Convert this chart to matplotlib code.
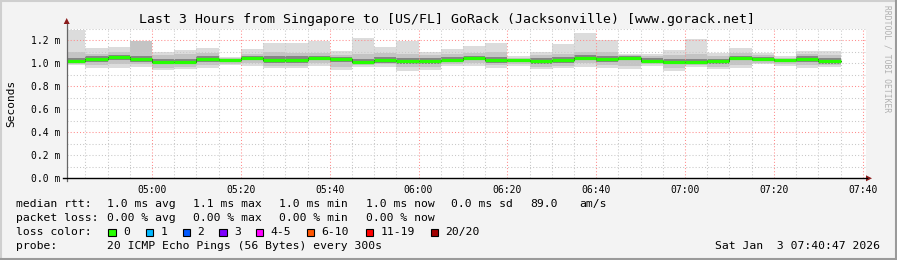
import numpy as np
import pandas as pd
import matplotlib
matplotlib.use('Agg')
import matplotlib.pyplot as plt
import matplotlib.dates as mdates
from matplotlib.patches import Polygon, Rectangle

# smokeping style graph: 20 pings every 300s, values in ms
bar_start = pd.date_range('2026-01-03 04:40', periods=35, freq='5min')
t_start = pd.Timestamp('2026-01-03 04:40:47')
t_end = pd.Timestamp('2026-01-03 07:40:47')

hi  = [1.292, 1.133, 1.142, 1.194, 1.100, 1.116, 1.133, 1.052, 1.124, 1.180, 1.180, 1.190,
       1.107, 1.220, 1.142, 1.194, 1.100, 1.124, 1.150, 1.180, 1.063, 1.100, 1.168, 1.266,
       1.203, 1.081, 1.081, 1.116, 1.211, 1.087, 1.133, 1.092, 1.063, 1.107, 1.107]
hi2 = [1.100, 1.078, 1.100, 1.190, 1.070, 1.080, 1.090, 1.045, 1.080, 1.100, 1.090, 1.090,
       1.070, 1.080, 1.090, 1.080, 1.070, 1.080, 1.090, 1.100, 1.050, 1.070, 1.080, 1.100,
       1.100, 1.070, 1.060, 1.070, 1.080, 1.060, 1.090, 1.070, 1.050, 1.080, 1.070]
hi3 = [1.050, 1.060, 1.075, 1.060, 1.035, 1.040, 1.060, 1.040, 1.065, 1.060, 1.065, 1.065,
       1.055, 1.040, 1.055, 1.045, 1.045, 1.055, 1.065, 1.055, 1.040, 1.045, 1.055, 1.070,
       1.065, 1.060, 1.045, 1.035, 1.040, 1.040, 1.065, 1.055, 1.040, 1.060, 1.045]
med = [1.023, 1.037, 1.055, 1.037, 1.011, 1.011, 1.037, 1.029, 1.046, 1.029, 1.029, 1.046,
       1.037, 1.011, 1.029, 1.020, 1.020, 1.029, 1.046, 1.026, 1.029, 1.020, 1.029, 1.046,
       1.037, 1.046, 1.020, 1.011, 1.011, 1.020, 1.046, 1.037, 1.029, 1.037, 1.020]
lo3 = [1.005, 1.015, 1.030, 1.015, 0.990, 0.990, 1.015, 1.010, 1.025, 1.005, 1.005, 1.025,
       1.015, 0.990, 1.005, 0.995, 0.995, 1.010, 1.025, 1.005, 1.010, 0.995, 1.005, 1.025,
       1.015, 1.025, 1.000, 0.990, 0.990, 0.995, 1.025, 1.020, 1.010, 1.015, 0.995]
lo2 = [0.995, 0.985, 0.990, 0.990, 0.960, 0.970, 0.985, 0.995, 1.000, 0.980, 0.980, 1.000,
       0.970, 0.985, 0.990, 0.965, 0.965, 0.995, 1.000, 0.985, 0.995, 0.970, 0.980, 1.000,
       0.985, 0.980, 0.990, 0.960, 0.985, 0.970, 0.985, 1.000, 0.995, 0.985, 0.985]
lo  = [0.985, 0.957, 0.957, 0.970, 0.940, 0.950, 0.957, 0.985, 0.980, 0.957, 0.957, 0.980,
       0.940, 0.970, 0.970, 0.936, 0.940, 0.980, 0.980, 0.962, 0.980, 0.948, 0.957, 0.970,
       0.957, 0.948, 0.980, 0.936, 0.970, 0.948, 0.957, 0.990, 0.980, 0.962, 0.970]

title = 'Last 3 Hours from Singapore to [US/FL] GoRack (Jacksonville) [www.gorack.net]'
rtt_parts = ['median rtt:', '1.0 ms avg', '1.1 ms max', '1.0 ms min', '1.0 ms now',
             '0.0 ms sd', '89.0', 'am/s']
loss_parts = ['packet loss:', '0.00 % avg', '0.00 % max', '0.00 % min', '0.00 % now']
loss_labels = ['0', '1', '2', '3', '4-5', '6-10', '11-19', '20/20']
loss_colors = ['#26ff00', '#00b8ff', '#0059ff', '#7e00ff', '#ff00ff', '#ff5500', '#ff0000', '#a10000']
probe_text = '20 ICMP Echo Pings (56 Bytes) every 300s'
stamp = 'Sat Jan  3 07:40:47 2026'

W, H = 897, 260
mono = 'DejaVu Sans Mono'
fig = plt.figure(figsize=(W / 100, H / 100), dpi=100, facecolor='#f3f3f3')

# plot area in pixels
px_l, px_r, px_t, px_b = 66.7, 866.2, 28.8, 178.3
ax = fig.add_axes([px_l / W, (H - px_b) / H, (px_r - px_l) / W, (px_b - px_t) / H])
ax.set_facecolor('white')

x0 = mdates.date2num(bar_start.to_pydatetime())
bw = 5.0 / 1440
hi, hi2, hi3, med, lo3, lo2, lo = map(np.array, (hi, hi2, hi3, med, lo3, lo2, lo))

for top, bot, c in [(hi, lo, '#dcdcdc'), (hi2, lo2, '#c4c4c4'), (hi3, lo3, '#858585')]:
    ax.bar(x0, top - bot, bottom=bot, width=bw, align='edge', color=c,
           linewidth=0, antialiased=False, zorder=1)

# grid (rrdtool style)
gray_dot = dict(color='#c8c8c8', lw=0.75, ls=(0, (1, 2)), zorder=2)
red_dot = dict(color='#ff8c8c', lw=0.75, ls=(0, (1, 2)), zorder=2)
for v in np.arange(0.1, 1.31, 0.1):
    if abs(v / 0.4 - round(v / 0.4)) < 1e-6:
        ax.axhline(v, **red_dot)
    else:
        ax.axhline(v, **gray_dot)
ax.xaxis.set_major_locator(mdates.MinuteLocator(byminute=[0, 20, 40]))
ax.xaxis.set_minor_locator(mdates.MinuteLocator(byminute=range(0, 60, 5)))
ax.xaxis.set_major_formatter(mdates.DateFormatter('%H:%M'))
ax.grid(True, axis='x', which='major', **{k: v for k, v in red_dot.items() if k != 'zorder'})
ax.grid(True, axis='x', which='minor', **{k: v for k, v in gray_dot.items() if k != 'zorder'})
ax.set_axisbelow(False)

# median line
ax.step(np.append(x0, x0[-1] + bw), np.append(med, med[-1]), where='post',
        color='#202020', lw=0.7, zorder=3)
ax.hlines(med, x0, x0 + bw, color='#26ff00', lw=2.3, zorder=4)

ax.set_xlim(mdates.date2num(t_start.to_pydatetime()), mdates.date2num(t_end.to_pydatetime()))
ax.set_ylim(0, 1.3)
ax.set_yticks(np.arange(0, 1.21, 0.2))
ax.set_yticklabels(['%.1f m' % v for v in np.arange(0, 1.21, 0.2)])
ax.tick_params(axis='both', which='both', length=0, labelsize=7, labelcolor='black')
ax.tick_params(axis='y', pad=4.8)
ax.tick_params(axis='x', pad=4.5)
for lab in ax.get_xticklabels() + ax.get_yticklabels():
    lab.set_family(mono)
for s in ax.spines.values():
    s.set_visible(False)

# overlay in pixel coordinates
ov = fig.add_axes([0, 0, 1, 1], facecolor='none')
ov.set_xlim(0, W)
ov.set_ylim(H, 0)
ov.axis('off')

# frame
ov.plot([1, W - 1], [1, 1], color='#cfcfcf', lw=1.5)
ov.plot([1, 1], [1, H - 1], color='#cfcfcf', lw=1.5)
ov.plot([1, W - 1], [H - 1.5, H - 1.5], color='#9a9a9a', lw=1.5)
ov.plot([W - 1.5, W - 1.5], [1, H - 1], color='#9a9a9a', lw=1.5)

# axes lines with arrows
ov.plot([px_l, px_l], [181, 24], color='#666666', lw=0.9)
ov.plot([62.7, 867], [px_b, px_b], color='black', lw=1.0)
ov.add_patch(Polygon([[63.7, 24], [69.7, 24], [66.7, 18]], closed=True, color='#8b1a1a', lw=0))
ov.add_patch(Polygon([[866, 175.3], [866, 181.3], [872, 178.3]], closed=True, color='#8b1a1a', lw=0))

ov.text(446.7, 19, title, family=mono, fontsize=9.5, ha='center', va='center')
ov.text(11, 103.5, 'Seconds', family=mono, fontsize=8, rotation=90, ha='center', va='center')
ov.text(887, 5, 'RRDTOOL / TOBI OETIKER', family=mono, fontsize=5.8, rotation=270,
        ha='center', va='top', color='#b0b0b0')

fs = 8.2
row_y = [204, 218, 232.3, 246]
rtt_x = [16, 107.3, 193.3, 279.3, 365.7, 451, 530, 579.3]
for s, x in zip(rtt_parts, rtt_x):
    ov.text(x, row_y[0], s, family=mono, fontsize=fs, va='center')
for s, x in zip(loss_parts, rtt_x):
    ov.text(x, row_y[1], s, family=mono, fontsize=fs, va='center')
ov.text(16, row_y[2], 'loss color:', family=mono, fontsize=fs, va='center')
box_x = [108.3, 145.7, 182.7, 219.3, 256, 306.7, 365.7, 430.7]
for lab, c, x in zip(loss_labels, loss_colors, box_x):
    ov.add_patch(Rectangle((x, row_y[2] - 3.7), 7.3, 7.3, facecolor=c, edgecolor='black', lw=0.8))
    ov.text(x + 14.5, row_y[2], lab, family=mono, fontsize=fs, va='center')
ov.text(16, row_y[3], 'probe:', family=mono, fontsize=fs, va='center')
ov.text(107.3, row_y[3], probe_text, family=mono, fontsize=fs, va='center')
ov.text(880, row_y[3], stamp, family=mono, fontsize=fs, va='center', ha='right')

fig.savefig('out.png', dpi=100, facecolor=fig.get_facecolor())
